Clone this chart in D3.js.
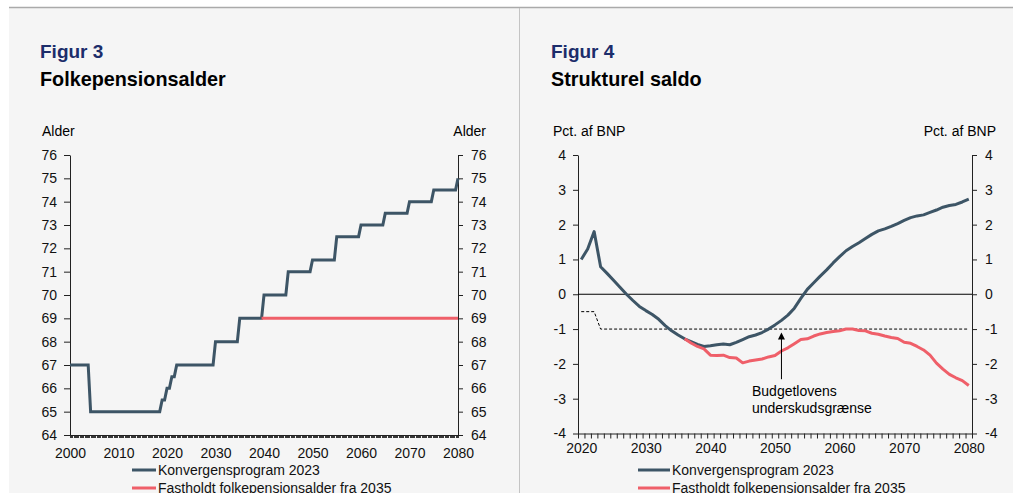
<!DOCTYPE html>
<html>
<head>
<meta charset="utf-8">
<script src="https://cdn.jsdelivr.net/npm/d3@7"></script>
<style>
  body { margin: 0; background: #fff; }
  svg { display: block; font-family: "Liberation Sans", Arial, sans-serif; }
  .axis path, .axis line { stroke: #222; }
  .axis text { font-size: 14px; fill: #111; font-family: "Liberation Sans", Arial, sans-serif; }
</style>
</head>
<body>
<div id="chart"></div>
<script>
// ---- Figur 3: folkepensionsalder (step vertices, year -> age)
const pensionYears = [2000, 2003.75, 2004.25, 2018.5, 2019, 2019.5, 2020, 2020.5, 2021, 2021.5, 2022,
  2029.5, 2030, 2034.5, 2035, 2039.5, 2040, 2044.5, 2045, 2049.5, 2050, 2054.5, 2055,
  2059.5, 2060, 2064.5, 2065, 2069.5, 2070, 2074.5, 2075, 2079.5, 2080];
const pensionAge = [67, 67, 65, 65, 65.5, 65.5, 66, 66, 66.5, 66.5, 67,
  67, 68, 68, 69, 69, 70, 70, 71, 71, 71.5, 71.5, 72.5,
  72.5, 73, 73, 73.5, 73.5, 74, 74, 74.5, 74.5, 75];
const fixedYears = [2039.5, 2080];
const fixedAge = [69, 69];
const ageTicks = [64, 65, 66, 67, 68, 69, 70, 71, 72, 73, 74, 75, 76];
const fig3Years = [2000, 2010, 2020, 2030, 2040, 2050, 2060, 2070, 2080];

// ---- Figur 4: strukturel saldo, pct. af BNP
const saldoYears = d3.range(2020, 2081);
const saldoKonv = [1.0, 1.3, 1.8, 0.79, 0.6, 0.4, 0.2, 0.0, -0.18, -0.35,
  -0.47, -0.58, -0.72, -0.9, -1.05, -1.17, -1.28, -1.36, -1.44, -1.5,
  -1.48, -1.45, -1.43, -1.45, -1.38, -1.3, -1.22, -1.17, -1.1, -1.0,
  -0.88, -0.75, -0.6, -0.4, -0.12, 0.14, 0.33, 0.52, 0.7, 0.9,
  1.08, 1.25, 1.37, 1.48, 1.6, 1.72, 1.82, 1.88, 1.95, 2.03,
  2.12, 2.2, 2.25, 2.28, 2.35, 2.42, 2.5, 2.55, 2.58, 2.65, 2.73];
const fastYears = d3.range(2036, 2081);
const saldoFast = [-1.28, -1.4, -1.5, -1.57, -1.75, -1.76, -1.75, -1.82, -1.83, -1.97,
  -1.92, -1.89, -1.86, -1.8, -1.76, -1.63, -1.54, -1.42, -1.3, -1.28,
  -1.2, -1.14, -1.1, -1.07, -1.05, -1.0, -1.0, -1.04, -1.05, -1.12,
  -1.15, -1.2, -1.24, -1.27, -1.38, -1.41, -1.5, -1.6, -1.75, -1.98,
  -2.15, -2.3, -2.4, -2.48, -2.62];
const limitYears = [2020, 2022, 2023, 2080];
const limitValues = [-0.5, -0.5, -1, -1];
const saldoTicks = [-4, -3, -2, -1, 0, 1, 2, 3, 4];
const fig4Years = [2020, 2030, 2040, 2050, 2060, 2070, 2080];

const seriesNames = ["Konvergensprogram 2023", "Fastholdt folkepensionsalder fra 2035"];
const colBlue = "#3d5566", colRed = "#ef5f69";
const plain = d => String(d); // hyphen minus like the original

const W = 1017, H = 493;
const svg = d3.select("#chart").append("svg").attr("width", W).attr("height", H);

// panel background + frame lines
svg.append("rect").attr("x", 9).attr("y", 7).attr("width", 1004).attr("height", H - 7).attr("fill", "#f5f5f5");
svg.append("line").attr("x1", 9).attr("x2", 1013).attr("y1", 7.5).attr("y2", 7.5).attr("stroke", "#aaa").attr("stroke-width", 1.5);
svg.append("line").attr("x1", 519.5).attr("x2", 519.5).attr("y1", 8).attr("y2", H).attr("stroke", "#c4c4c4");

function titles(x, fig, name) {
  svg.append("text").attr("x", x).attr("y", 58).attr("font-size", 19).attr("font-weight", "bold")
    .attr("fill", "#1c2d6b").text(fig);
  svg.append("text").attr("x", x).attr("y", 86).attr("font-size", 19.8).attr("font-weight", "bold")
    .attr("fill", "#000").text(name);
}

function legend(x0, x1) {
  seriesNames.forEach((n, i) => {
    const y = 470 + i * 18;
    svg.append("line").attr("x1", x0).attr("x2", x1).attr("y1", y).attr("y2", y)
      .attr("stroke", i ? colRed : colBlue).attr("stroke-width", 3);
    svg.append("text").attr("x", x1 + 2).attr("y", y + 5).attr("font-size", 14).attr("fill", "#111").text(n);
  });
}

// ================= Figur 3 =================
titles(40, "Figur 3", "Folkepensionsalder");
svg.append("text").attr("x", 42).attr("y", 136).attr("font-size", 14).text("Alder");
svg.append("text").attr("x", 486).attr("y", 136).attr("font-size", 14).attr("text-anchor", "end").text("Alder");

const x3 = d3.scaleLinear().domain([2000, 2080]).range([70, 458]);
const y3 = d3.scaleLinear().domain([64, 76]).range([435, 155]);

svg.append("g").attr("class", "axis").attr("transform", "translate(70,0)")
  .call(d3.axisLeft(y3).tickValues(ageTicks).tickSize(6).tickPadding(7).tickSizeOuter(0).tickFormat(plain));
svg.append("g").attr("class", "axis").attr("transform", "translate(458,0)")
  .call(d3.axisRight(y3).tickValues(ageTicks).tickSize(5).tickPadding(8).tickSizeOuter(0).tickFormat(plain));
svg.append("g").attr("class", "axis").attr("transform", "translate(0,435)")
  .call(d3.axisBottom(x3).tickValues(d3.range(2000, 2080.01, 0.25)).tickSize(3).tickFormat("").tickSizeOuter(0))
  .selectAll("line").attr("stroke-width", 0.9).attr("shape-rendering", "crispEdges");
svg.append("g").attr("class", "axis").attr("transform", "translate(0,435)")
  .call(d3.axisBottom(x3).tickValues(fig3Years).tickSize(0).tickPadding(13).tickFormat(plain))
  .select(".domain").remove();

const line3 = d3.line().x(d => x3(d[0])).y(d => y3(d[1]));
svg.append("path").datum(pensionYears.map((yr, i) => [yr, pensionAge[i]]))
  .attr("d", line3).attr("fill", "none").attr("stroke", colBlue).attr("stroke-width", 3);
svg.append("path").datum(fixedYears.map((yr, i) => [yr, fixedAge[i]]))
  .attr("d", line3).attr("fill", "none").attr("stroke", colRed).attr("stroke-width", 3);

legend(132, 156);

// ================= Figur 4 =================
titles(551, "Figur 4", "Strukturel saldo");
svg.append("text").attr("x", 553).attr("y", 136).attr("font-size", 14).text("Pct. af BNP");
svg.append("text").attr("x", 996).attr("y", 136).attr("font-size", 14).attr("text-anchor", "end").text("Pct. af BNP");

// category-style axis: each year sits in the middle of its slot
const x4 = d3.scaleLinear().domain([2019.5, 2080.5]).range([578, 972]);
const y4 = d3.scaleLinear().domain([-4, 4]).range([433.5, 155]);

svg.append("g").attr("class", "axis").attr("transform", "translate(578,0)")
  .call(d3.axisLeft(y4).tickValues(saldoTicks).tickSize(5).tickPadding(7).tickSizeOuter(0).tickFormat(plain));
svg.append("g").attr("class", "axis").attr("transform", "translate(972,0)")
  .call(d3.axisRight(y4).tickValues(saldoTicks).tickSize(5).tickPadding(8).tickSizeOuter(0).tickFormat(plain));
svg.append("g").attr("class", "axis").attr("transform", "translate(0,433.5)")
  .call(d3.axisBottom(x4).tickValues(d3.range(2019.5, 2080.6, 1)).tickSize(5).tickFormat("").tickSizeOuter(0));
svg.append("g").attr("class", "axis").attr("transform", "translate(0,433.5)")
  .call(d3.axisBottom(x4).tickValues(fig4Years).tickSize(0).tickPadding(10).tickFormat(plain))
  .select(".domain").remove();

// zero line
svg.append("line").attr("x1", x4(2019.5)).attr("x2", x4(2080.5)).attr("y1", y4(0)).attr("y2", y4(0))
  .attr("stroke", "#000").attr("stroke-width", 1.2);

const line4 = d3.line().x(d => x4(d[0])).y(d => y4(d[1]));
svg.append("path").datum(limitYears.map((yr, i) => [yr, limitValues[i]]))
  .attr("d", line4).attr("fill", "none").attr("stroke", "#000").attr("stroke-width", 1).attr("stroke-dasharray", "3,2");
svg.append("path").datum(saldoYears.map((yr, i) => [yr, saldoKonv[i]]))
  .attr("d", line4).attr("fill", "none").attr("stroke", colBlue).attr("stroke-width", 3).attr("stroke-linejoin", "round");
svg.append("path").datum(fastYears.map((yr, i) => [yr, saldoFast[i]]))
  .attr("d", line4).attr("fill", "none").attr("stroke", colRed).attr("stroke-width", 3).attr("stroke-linejoin", "round");

// annotation arrow
const ax = x4(2051);
svg.append("line").attr("x1", ax).attr("x2", ax).attr("y1", y4(-2.44)).attr("y2", y4(-1.2))
  .attr("stroke", "#000").attr("stroke-width", 1);
svg.append("path").attr("d", `M${ax - 3.5},${y4(-1.3)} L${ax},${y4(-1.1)} L${ax + 3.5},${y4(-1.3)} Z`).attr("fill", "#000");
svg.append("text").attr("x", 752).attr("y", 396).attr("font-size", 14).text("Budgetlovens");
svg.append("text").attr("x", 752).attr("y", 413).attr("font-size", 14).text("underskudsgrænse");

legend(638, 670);
</script>
</body>
</html>
